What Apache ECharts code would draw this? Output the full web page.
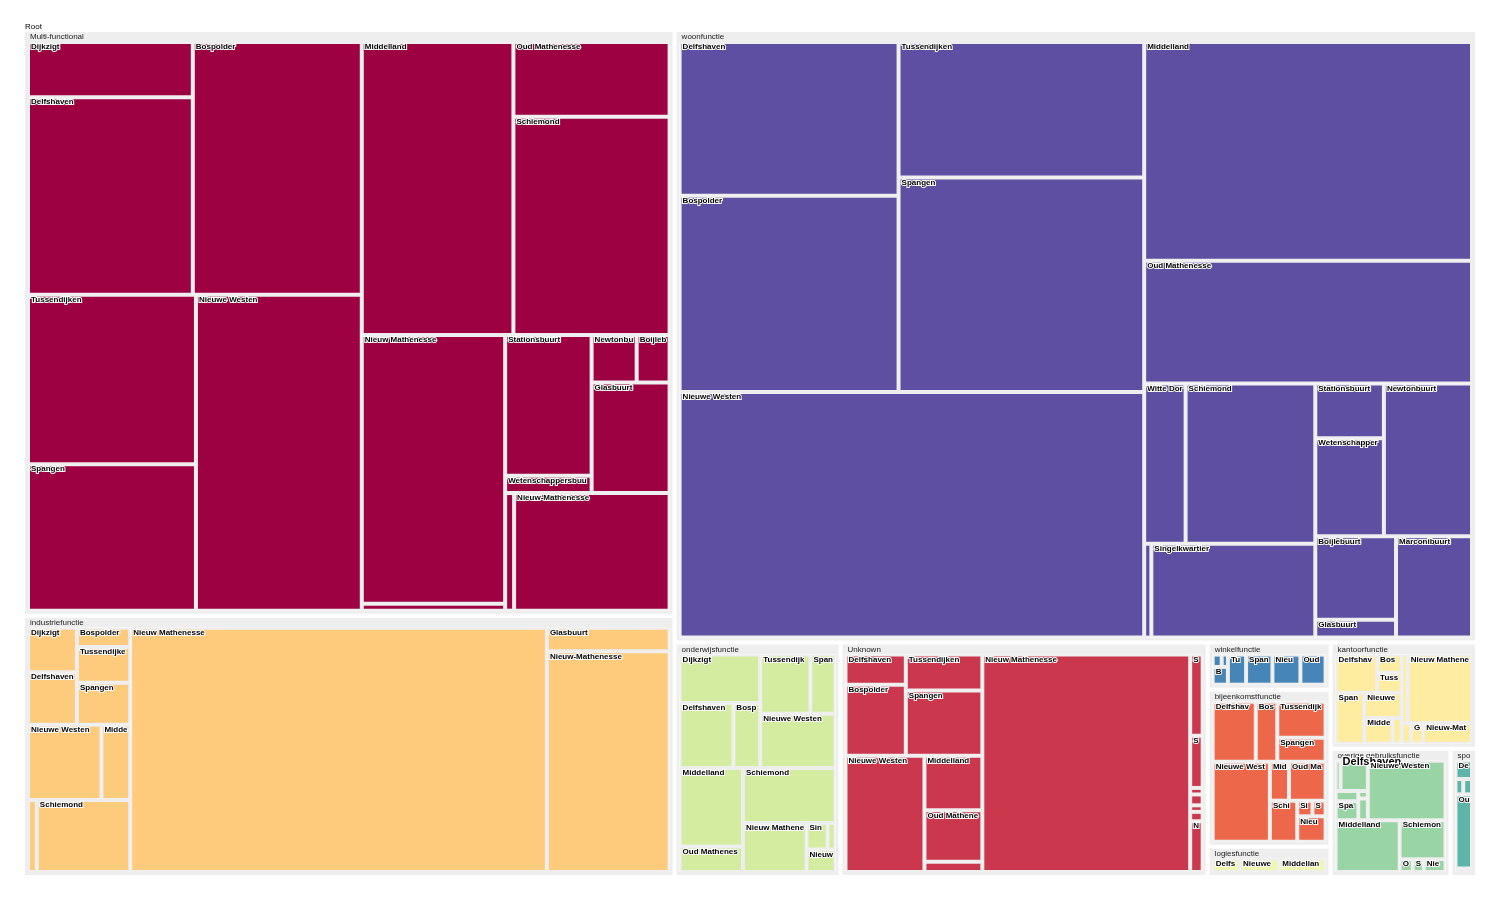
<!DOCTYPE html>
<html>
<head>
<meta charset="utf-8">
<title>Treemap</title>
<script src="https://cdn.jsdelivr.net/npm/echarts@6/dist/echarts.min.js"></script>
<style>
  html, body { margin: 0; padding: 0; background: #fff; }
  #chart { width: 1500px; height: 900px; }
</style>
</head>
<body>
<div id="chart"></div>
<script>
// categories (gebruiksfunctie) and their colours
const categories = ["Multi-functional", "industriefunctie", "woonfunctie", "onderwijsfunctie", "Unknown",
  "winkelfunctie", "bijeenkomstfunctie", "logiesfunctie", "kantoorfunctie", "overige gebruiksfunctie", "sportfunctie"];
const categoryColors = ["#9e0142", "#fecb7c", "#5e4fa2", "#d3eca0", "#cb374c",
  "#4585b8", "#ed674a", "#f1f7ae", "#feeda1", "#98d4a4", "#5db5a9"];

// buurten per category
const multiNames = ["Dijkzigt", "Delfshaven", "Bospolder", "Tussendijken", "Spangen", "Nieuwe Westen", "Middelland",
  "Oud Mathenesse", "Schiemond", "Nieuw Mathenesse", "Singelkwartier", "Stationsbuurt", "Wetenschappersbuurt",
  "Newtonbuurt", "Boijlebuurt", "Glasbuurt", "Marconibuurt", "Nieuw-Mathenesse"];
const multiValues = [95, 340, 446, 297, 257, 547, 464, 122, 356, 402, 10.5, 127, 15.6, 22.3, 16.3, 90, 11, 191];

const industrieNames = ["Dijkzigt", "Delfshaven", "Bospolder", "Tussendijken", "Spangen", "Nieuwe Westen", "Middelland",
  "Oud Mathenesse", "Schiemond", "Nieuw Mathenesse", "Glasbuurt", "Nieuw-Mathenesse"];
const industrieValues = [23.6, 27.9, 11.2, 20.7, 24.2, 60, 23.5, 6.9, 72.8, 1104, 31.5, 293.6];

const woonNames = ["Delfshaven", "Bospolder", "Tussendijken", "Spangen", "Nieuwe Westen", "Middelland", "Oud Mathenesse",
  "Witte Dorp", "Schiemond", "Nieuw Mathenesse", "Singelkwartier", "Stationsbuurt", "Wetenschappersbuurt",
  "Newtonbuurt", "Boijlebuurt", "Glasbuurt", "Marconibuurt"];
const woonValues = [350, 447, 346, 548, 1186, 746, 418, 69, 216, 7, 160, 39, 70, 140, 70, 15, 80];

const onderwijsNames = ["Dijkzigt", "Delfshaven", "Bospolder", "Tussendijken", "Spangen", "Nieuwe Westen", "Middelland",
  "Oud Mathenesse", "Schiemond", "Nieuw Mathenesse", "Singelkwartier", "Stationsbuurt", "Nieuw-Mathenesse"];
const onderwijsValues = [44.7, 40, 20, 34, 17, 46.7, 57, 18.5, 58.3, 35.7, 6.4, 2.4, 7.5];

const unknownNames = ["Delfshaven", "Bospolder", "Tussendijken", "Spangen", "Nieuwe Westen", "Middelland",
  "Oud Mathenesse", "Schiemond", "Nieuw Mathenesse", "Singelkwartier", "Stationsbuurt", "Wetenschappersbuurt",
  "Newtonbuurt", "Boijlebuurt", "Glasbuurt", "Nieuw-Mathenesse"];
const unknownValues = [20.2, 47.3, 30.3, 55.3, 101.6, 35, 33, 6.5, 500, 11.2, 7.2, 0.9, 1.5, 0.9, 1.3, 7];

const winkelNames = ["Dijkzigt", "Delfshaven", "Bospolder", "Tussendijken", "Spangen", "Nieuwe Westen", "Oud Mathenesse"];
const winkelValues = [1.9, 1.3, 4.6, 9.3, 13.5, 14.3, 12.9];

const bijeenkomstNames = ["Delfshaven", "Bospolder", "Tussendijken", "Spangen", "Nieuwe Westen", "Middelland",
  "Oud Mathenesse", "Schiemond", "Singelkwartier", "Stationsbuurt", "Nieuw Mathenesse"];
const bijeenkomstValues = [31.5, 15.7, 21.3, 14, 55.9, 9.1, 17.4, 13.7, 2.9, 2.5, 8.8];

const logiesNames = ["Delfshaven", "Nieuwe Westen", "Middelland"];
const logiesValues = [9, 12.9, 15.2];

const kantoorNames = ["Delfshaven", "Bospolder", "Tussendijken", "Spangen", "Nieuwe Westen", "Middelland",
  "Oud Mathenesse", "Schiemond", "Nieuw Mathenesse", "Stationsbuurt", "Glasbuurt", "Nieuw-Mathenesse"];
const kantoorValues = [20.2, 5.7, 6.3, 18.6, 12.1, 9.3, 3, 5.3, 56.1, 2.4, 3.2, 12.8];

const overigeNames = ["Dijkzigt", "Delfshaven", "Tussendijken", "Spangen", "Bospolder", "Witte Dorp", "Nieuwe Westen",
  "Middelland", "Schiemond", "Oud Mathenesse", "Stationsbuurt", "Nieuw-Mathenesse"];
const overigeValues = [1.9, 10.4, 2.9, 5.4, 0.9, 2.6, 58, 41.7, 22.4, 2.1, 1.8, 3.5];

const sportNames = ["Delfshaven", "Bospolder", "Tussendijken", "Oud Mathenesse", "Schiemond"];
const sportValues = [5.6, 2.2, 2.5, 22.6, 1.1];

const childNames = [multiNames, industrieNames, woonNames, onderwijsNames, unknownNames, winkelNames,
  bijeenkomstNames, logiesNames, kantoorNames, overigeNames, sportNames];
const childValues = [multiValues, industrieValues, woonValues, onderwijsValues, unknownValues, winkelValues,
  bijeenkomstValues, logiesValues, kantoorValues, overigeValues, sportValues];

function sumOf(node) {
  if (node.children) return node.children.reduce((s, c) => s + sumOf(c), 0);
  return node.value;
}

// split a list in two halves of (about) equal value, like a binary treemap
function binarize(nodes) {
  if (nodes.length === 1) return nodes[0];
  const sums = [0];
  nodes.forEach((n) => sums.push(sums[sums.length - 1] + sumOf(n)));
  const target = sums[nodes.length] / 2;
  let k = 1;
  while (k < nodes.length - 1 && sums[k] < target) k++;
  if (target - sums[k - 1] < sums[k] - target && k > 1) k--;
  return {
    name: "",
    itemStyle: { borderWidth: 0, gapWidth: 0 },
    children: [binarize(nodes.slice(0, k)), binarize(nodes.slice(k))],
  };
}

const upperStyle = {
  show: true,
  position: [2, "50%"],
  fontFamily: "Liberation Sans",
  fontSize: 8,
  color: "#222",
  textBorderWidth: 0,
};

const categoryNodes = categories.map(function (cat, i) {
  const leaves = childNames[i].map(function (n, j) {
    const item = { name: n, value: childValues[i][j], itemStyle: { borderWidth: 2, borderColor: "#eeeeee" } };
    if (cat === "overige gebruiksfunctie" && n === "Delfshaven") {
      item.label = { fontSize: 11, overflow: "none", offset: [0, -6] };
    }
    return item;
  });
  // wrapper gives the white gap round each category
  return {
    name: cat,
    itemStyle: { borderWidth: 2, borderColor: "#fff", gapWidth: 0 },
    children: [
      {
        name: cat,
        itemStyle: { color: categoryColors[i], borderWidth: 3, borderColor: "#eeeeee", gapWidth: 0 },
        upperLabel: Object.assign({ height: 10 }, upperStyle),
        children: [binarize(leaves)],
      },
    ],
  };
});

const chartDom = echarts.init(document.getElementById("chart"));

const option = {
  animation: false,
  series: [
    {
      type: "treemap",
      left: 23,
      right: 23,
      top: 18,
      bottom: 23,
      roam: false,
      nodeClick: false,
      sort: false,
      squareRatio: 1,
      visibleMin: 0,
      breadcrumb: { show: false },
      emphasis: { disabled: true },
      itemStyle: { borderWidth: 0, gapWidth: 0, borderColor: "#fff" },
      upperLabel: { show: false },
      label: {
        show: true,
        position: "insideTopLeft",
        distance: 0,
        padding: 0,
        offset: [1, -1],
        fontFamily: "Liberation Sans",
        fontSize: 8,
        fontWeight: "bold",
        color: "#000",
        textBorderColor: "#fff",
        textBorderWidth: 2,
        overflow: "truncate",
        ellipsis: "",
      },
      levels: [{ itemStyle: { borderWidth: 0, gapWidth: 0 } }],
      data: [
        {
          name: "Root",
          itemStyle: { borderWidth: 0, borderColor: "#fff", gapWidth: 0 },
          upperLabel: Object.assign({}, upperStyle, { height: 12, color: "#000", position: [2, 9] }),
          children: [binarize(categoryNodes)],
        },
      ],
    },
  ],
};
chartDom.setOption(option);
</script>
</body>
</html>
